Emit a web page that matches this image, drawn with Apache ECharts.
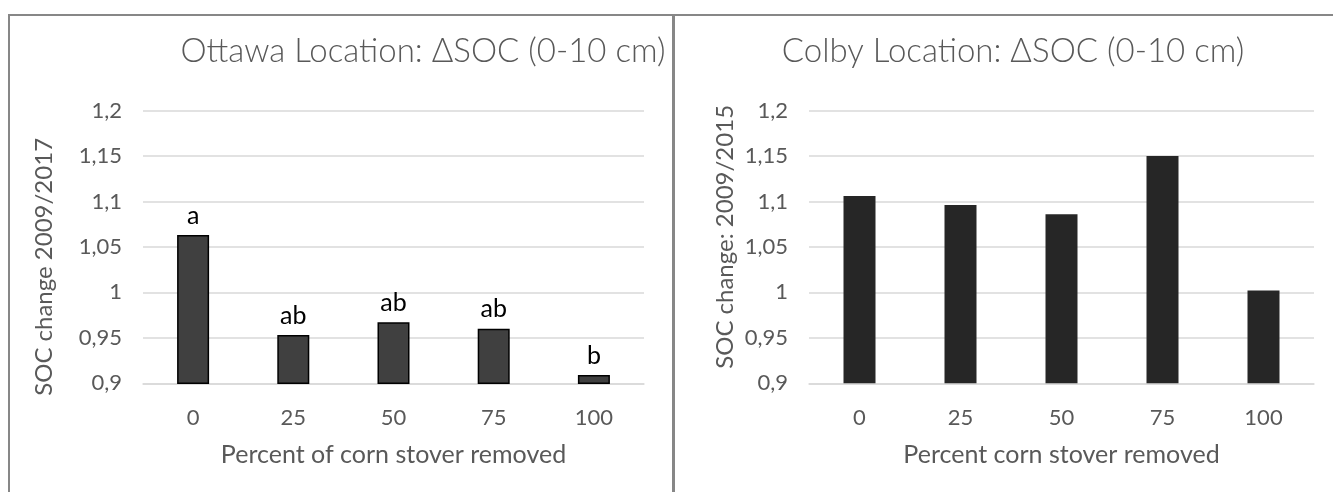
<!DOCTYPE html>
<html>
<head>
<meta charset="utf-8">
<script src="https://cdn.jsdelivr.net/npm/echarts@6/dist/echarts.min.js"></script>
<style>
  html, body { margin: 0; padding: 0; background: #fff; }
  #chart { width: 1333px; height: 492px; }
</style>
</head>
<body>
<div id="chart"></div>
<script>
// categories and values
const removal = ['0', '25', '50', '75', '100']
const ottawaSoc = [1.063, 0.953, 0.967, 0.960, 0.909]
const ottawaLetters = ['a', 'ab', 'ab', 'ab', 'b']
const colbySoc = [1.106, 1.096, 1.086, 1.150, 1.002]
const yTicks = { min: 0.9, max: 1.2, step: 0.05 }

const FONT = 'Lato, "Open Sans", sans-serif'
const GREY = '#595959'
const GRID_LINE = '#d9d9d9'
const FRAME = '#878787'

// decimal comma, like the original
const fmt = v => String(+v.toFixed(2)).replace('.', ',')

function xAxisFor(gridIndex, name) {
  return {
    type: 'category',
    gridIndex,
    data: removal,
    name,
    nameLocation: 'middle',
    nameGap: 59,
    nameTextStyle: { color: GREY, fontSize: 25, fontFamily: FONT },
    axisTick: { show: false },
    axisLine: { lineStyle: { color: GRID_LINE, width: 1.5 } },
    axisLabel: { color: GREY, fontSize: 22, fontFamily: FONT, margin: 24 }
  }
}

function yAxisFor(gridIndex, name, gap, pad) {
  return {
    type: 'value',
    gridIndex,
    min: yTicks.min,
    max: yTicks.max,
    interval: yTicks.step,
    name,
    nameLocation: 'middle',
    nameGap: gap,
    nameTextStyle: { color: GREY, fontSize: 24, fontFamily: FONT, padding: pad },
    axisLine: { show: false },
    axisTick: { show: false },
    axisLabel: { color: GREY, fontSize: 22, fontFamily: FONT, margin: 21, formatter: fmt },
    splitLine: { lineStyle: { color: GRID_LINE, width: 1.5 } }
  }
}

const chart = echarts.init(document.getElementById('chart'))

chart.setOption({
  animation: false,
  backgroundColor: '#fff',
  title: [
    {
      text: 'Ottawa Location: ΔSOC (0-10 cm)',
      left: 418, top: 30, textAlign: 'center',
      textStyle: { color: GREY, fontSize: 33, fontWeight: 300, fontFamily: FONT }
    },
    {
      text: 'Colby Location: ΔSOC (0-10 cm)',
      left: 1008, top: 30, textAlign: 'center',
      textStyle: { color: GREY, fontSize: 33, fontWeight: 300, fontFamily: FONT }
    }
  ],
  grid: [
    { left: 143, right: 689, top: 110.5, bottom: 108.7 },
    { left: 809, right: 19, top: 110.5, bottom: 108.7 }
  ],
  xAxis: [
    xAxisFor(0, 'Percent of corn stover removed'),
    xAxisFor(1, 'Percent corn stover removed')
  ],
  yAxis: [
    yAxisFor(0, 'SOC change 2009/2017', 87, [0, 40, 0, 0]),
    yAxisFor(1, 'SOC change: 2009/2015', 72, [0, 0, 0, 20])
  ],
  series: [
    {
      type: 'bar',
      xAxisIndex: 0, yAxisIndex: 0,
      data: ottawaSoc,
      barWidth: 32,
      itemStyle: { color: '#404040', borderColor: '#000', borderWidth: 1.5 },
      label: {
        show: true, position: 'top', distance: 7,
        color: '#000', fontSize: 25, fontFamily: FONT,
        formatter: p => ottawaLetters[p.dataIndex]
      }
    },
    {
      type: 'bar',
      xAxisIndex: 1, yAxisIndex: 1,
      data: colbySoc,
      barWidth: 32,
      itemStyle: { color: '#262626' }
    }
  ],
  // panel frames
  graphic: [
    { type: 'line', shape: { x1: 8, y1: 15, x2: 1333, y2: 15 }, style: { stroke: FRAME, lineWidth: 2 } },
    { type: 'line', shape: { x1: 9, y1: 14, x2: 9, y2: 492 }, style: { stroke: FRAME, lineWidth: 2 } },
    { type: 'line', shape: { x1: 673.5, y1: 14, x2: 673.5, y2: 492 }, style: { stroke: FRAME, lineWidth: 3 } }
  ]
})
</script>
</body>
</html>
